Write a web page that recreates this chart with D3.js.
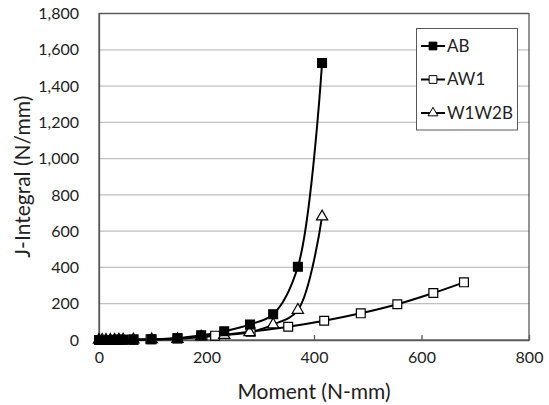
<!DOCTYPE html>
<html>
<head>
<meta charset="utf-8">
<script src="https://cdn.jsdelivr.net/npm/d3@7"></script>
<style>
  body { margin: 0; background: #fff; }
  svg { display: block; font-family: Lato, 'Liberation Sans', sans-serif; }
</style>
</head>
<body>
<svg id="svg"></svg>
<script>
// moment (N-mm) and J-integral (N/mm)
const abX = [0, 6, 13, 21, 29, 37, 45, 64, 98, 146, 190, 233, 281, 324, 370, 415]
const abY = [0, 0, 0, 0, 1, 1, 1, 2, 4, 10, 26, 48, 86, 142, 404, 1527]

const aw1X = [0, 6, 13, 21, 29, 37, 45, 64, 96, 146, 216, 282, 352, 419, 487, 555, 622, 679]
const aw1Y = [0, 0, 0, 0, 0, 1, 1, 2, 4, 9, 24, 46, 73, 106, 147, 197, 259, 318]

const wbX = [0, 6, 13, 21, 29, 37, 45, 64, 98, 146, 190, 233, 280, 324, 370, 415]
const wbY = [0, 0, 0, 0, 0, 1, 1, 2, 3, 5, 18, 27, 42, 85, 165, 680]

const seriesNames = ['AB', 'AW1', 'W1W2B']
const xTicks = [0, 200, 400, 600, 800]
const yTicks = [0, 200, 400, 600, 800, 1000, 1200, 1400, 1600, 1800]

const w = 549
const h = 405
const pLeft = 99, pRight = 529, pTop = 13.5, pBottom = 340

const svg = d3.select('#svg').attr('width', w).attr('height', h)

const x = d3.scaleLinear().domain([0, 800]).range([pLeft, pRight])
const y = d3.scaleLinear().domain([0, 1800]).range([pBottom, pTop])

// gridlines
svg.append('g')
  .selectAll('line')
  .data(yTicks.slice(1))
  .enter().append('line')
  .attr('x1', pLeft).attr('x2', pRight)
  .attr('y1', d => y(d)).attr('y2', d => y(d))
  .attr('stroke', '#bfbfbf').attr('stroke-width', 1.3)

// frame
svg.append('rect')
  .attr('x', pLeft).attr('y', pTop)
  .attr('width', pRight - pLeft).attr('height', pBottom - pTop)
  .attr('fill', 'none').attr('stroke', '#595959').attr('stroke-width', 1.3)

// x axis, ticks pointing inward
const xAxis = svg.append('g')
  .attr('transform', `translate(0,${pBottom})`)
  .call(d3.axisBottom(x).tickValues(xTicks).tickSizeInner(-5).tickSizeOuter(0).tickPadding(12))
xAxis.select('.domain').attr('stroke', '#595959').attr('stroke-width', 1.3)
xAxis.selectAll('.tick line').attr('stroke', '#595959').attr('stroke-width', 1.3)
xAxis.selectAll('text').attr('font-size', 16).attr('fill', '#222').attr('font-family', 'Lato')

const yAxis = svg.append('g')
  .attr('transform', `translate(${pLeft},0)`)
  .call(d3.axisLeft(y).tickValues(yTicks).tickSize(0).tickPadding(20).tickFormat(d3.format(',')))
yAxis.select('.domain').attr('stroke', '#595959').attr('stroke-width', 1.3)
yAxis.selectAll('text').attr('font-size', 16).attr('fill', '#222').attr('font-family', 'Lato')

// axis titles
svg.append('text')
  .attr('x', (pLeft + pRight) / 2).attr('y', 399)
  .attr('text-anchor', 'middle').attr('font-size', 21).attr('fill', '#222')
  .text('Moment (N-mm)')

svg.append('text')
  .attr('transform', `translate(30,${(pTop + pBottom) / 2}) rotate(-90)`)
  .attr('text-anchor', 'middle').attr('font-size', 21).attr('fill', '#222')
  .text('J-Integral (N/mm)')

const line = d3.line()
  .x(d => x(d[0]))
  .y(d => y(d[1]))
  .curve(d3.curveCatmullRom.alpha(0.5))

const series = [
  { name: seriesNames[0], pts: d3.zip(abX, abY), marker: 'square', fill: '#000' },
  { name: seriesNames[1], pts: d3.zip(aw1X, aw1Y), marker: 'square', fill: '#fff' },
  { name: seriesNames[2], pts: d3.zip(wbX, wbY), marker: 'triangle', fill: '#fff' }
]

const sym = {
  square: d3.symbol().type(d3.symbolSquare).size(78),
  triangle: d3.symbol().type(d3.symbolTriangle).size(55)
}

const drawMarkers = (g, s, pts) => {
  g.selectAll('path.m')
    .data(pts)
    .enter().append('path')
    .attr('class', 'm')
    .attr('d', sym[s.marker])
    .attr('transform', d => `translate(${x(d[0])},${y(d[1])})`)
    .attr('fill', s.fill)
    .attr('stroke', '#000').attr('stroke-width', 1.2)
}

// draw lines first, then markers (AW1 under, AB on top)
const order = [1, 2, 0]
order.forEach(i => {
  const s = series[i]
  svg.append('path')
    .datum(s.pts)
    .attr('d', line)
    .attr('fill', 'none')
    .attr('stroke', '#000')
    .attr('stroke-width', 2)
})
order.forEach(i => {
  const s = series[i]
  drawMarkers(svg.append('g'), s, s.pts)
})

// legend
const lg = svg.append('g')
lg.append('rect')
  .attr('x', 416.5).attr('y', 28.5).attr('width', 101).attr('height', 101.5)
  .attr('fill', '#fff').attr('stroke', '#595959').attr('stroke-width', 1)

series.forEach((s, i) => {
  const ly = 46 + i * 33.5
  const row = lg.append('g')
  row.append('line')
    .attr('x1', 421).attr('x2', 445).attr('y1', ly).attr('y2', ly)
    .attr('stroke', '#000').attr('stroke-width', 2)
  row.append('path')
    .attr('d', d3.symbol().type(s.marker === 'square' ? d3.symbolSquare : d3.symbolTriangle).size(s.marker === 'square' ? 60 : 42))
    .attr('transform', `translate(433,${ly})`)
    .attr('fill', s.fill).attr('stroke', '#000').attr('stroke-width', 1)
  row.append('text')
    .attr('x', 447).attr('y', ly).attr('dy', '0.35em')
    .attr('font-size', 17).attr('fill', '#222')
    .text(s.name)
})
</script>
</body>
</html>
